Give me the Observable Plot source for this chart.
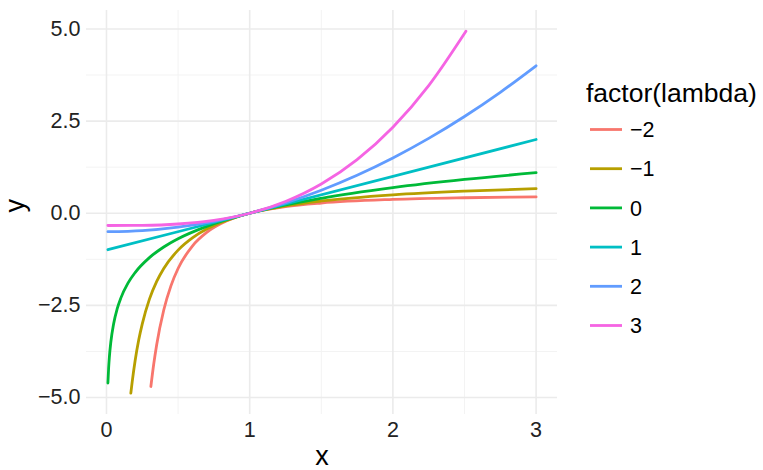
<!DOCTYPE html>
<html>
<head>
<meta charset="utf-8">
<script src="https://cdn.jsdelivr.net/npm/d3@7"></script>
<script src="https://cdn.jsdelivr.net/npm/@observablehq/plot@0.6"></script>
<style>
  html, body { margin: 0; padding: 0; background: #fff; }
  #wrap { position: relative; width: 763px; height: 470px; font-family: "Liberation Sans", Arial, sans-serif; }
  #wrap svg { position: absolute; left: 0; top: 0; }
</style>
</head>
<body>
<div id="wrap"></div>
<script>
// Series (lambda values and their colours)
const lambdas = ["-2", "-1", "0", "1", "2", "3"];
const lambdaLabels = ["\u22122", "\u22121", "0", "1", "2", "3"];
const colors = ["#F8766D", "#B79F00", "#00BA38", "#00BFC4", "#619CFF", "#F564E3"];

// Values, per lambda
const xNeg2 = [0.31, 0.33, 0.35, 0.4, 0.45, 0.5, 0.6, 0.7, 0.8, 0.9, 1, 1.25, 1.5, 2, 2.5, 3];
const yNeg2 = [-4.70, -4.09, -3.58, -2.625, -1.97, -1.5, -0.889, -0.520, -0.281, -0.117, 0, 0.18, 0.278, 0.375, 0.42, 0.444];

const xNeg1 = [0.17, 0.18, 0.2, 0.225, 0.25, 0.3, 0.35, 0.4, 0.5, 0.6, 0.7, 0.8, 0.9, 1, 1.25, 1.5, 2, 2.5, 3];
const yNeg1 = [-4.88, -4.56, -4.0, -3.44, -3.0, -2.33, -1.857, -1.5, -1.0, -0.667, -0.429, -0.25, -0.111, 0, 0.2, 0.333, 0.5, 0.6, 0.667];

const x0 = [0.01, 0.015, 0.02, 0.03, 0.05, 0.075, 0.1, 0.15, 0.2, 0.3, 0.4, 0.5, 0.7, 1, 1.5, 2, 2.5, 3];
const y0 = [-4.605, -4.2, -3.912, -3.507, -2.996, -2.59, -2.303, -1.897, -1.609, -1.204, -0.916, -0.693, -0.357, 0, 0.405, 0.693, 0.916, 1.099];

const x1 = [0.01, 1, 3];
const y1 = [-0.99, 0, 2.0];

const x2 = [0.01, 0.25, 0.5, 0.75, 1, 1.25, 1.5, 1.75, 2, 2.25, 2.5, 2.75, 3];
const y2 = [-0.5, -0.469, -0.375, -0.219, 0, 0.281, 0.625, 1.031, 1.5, 2.031, 2.625, 3.281, 4.0];

const x3 = [0.01, 0.25, 0.5, 0.75, 1, 1.25, 1.5, 1.75, 2, 2.25, 2.51];
const y3 = [-0.333, -0.328, -0.292, -0.193, 0, 0.318, 0.792, 1.453, 2.333, 3.464, 4.938];

// Axis ticks
const xTicks = [0, 1, 2, 3];
const xMinor = [0.5, 1.5, 2.5];
const yTicks = [-5, -2.5, 0, 2.5, 5];
const yMinor = [-3.75, -1.25, 1.25, 3.75];

const seriesX = [xNeg2, xNeg1, x0, x1, x2, x3];
const seriesY = [yNeg2, yNeg1, y0, y1, y2, y3];
const data = [];
lambdas.forEach((l, i) => {
  seriesX[i].forEach((x, j) => data.push({x, y: seriesY[i][j], lambda: l}));
});

const font = "\"Liberation Sans\", Arial, sans-serif";
const grid = "#EBEBEB";
const fmtY = d => d.toFixed(1).replace("-", "\u2212");
const fmtX = d => String(d);

const chart = Plot.plot({
  width: 763,
  height: 470,
  marginLeft: 86,
  marginRight: 206,
  marginTop: 10,
  marginBottom: 56,
  style: {fontFamily: font, background: "#fff", overflow: "visible"},
  x: {domain: [-0.1395, 3.1495]},
  y: {domain: [-5.46, 5.5]},
  color: {domain: lambdas, range: colors},
  marks: [
    Plot.gridX(xMinor, {stroke: "#F3F3F3", strokeOpacity: 1, strokeWidth: 1}),
    Plot.gridY(yMinor, {stroke: "#F3F3F3", strokeOpacity: 1, strokeWidth: 1}),
    Plot.gridX(xTicks, {stroke: grid, strokeOpacity: 1, strokeWidth: 1.6}),
    Plot.gridY(yTicks, {stroke: grid, strokeOpacity: 1, strokeWidth: 1.6}),
    Plot.axisX(xTicks, {tickSize: 0, tickPadding: 7, fontSize: 21.5, fill: "#222", label: null, tickFormat: fmtX}),
    Plot.axisY(yTicks, {tickSize: 0, tickPadding: 6, fontSize: 21.5, fill: "#222", label: null, tickFormat: fmtY}),
    Plot.line(data, {x: "x", y: "y", z: "lambda", stroke: "lambda", strokeWidth: 2.8, curve: "monotone-x"}),
    Plot.text(["x"], {frameAnchor: "bottom", dy: 50, fontSize: 27, fill: "#000"}),
    Plot.text(["y"], {frameAnchor: "left", dx: -71, rotate: -90, fontSize: 27, fill: "#000"})
  ]
});
document.getElementById("wrap").appendChild(chart);

// Legend
const leg = d3.select("#wrap").append("svg")
  .attr("width", 763).attr("height", 470)
  .style("font-family", font);
leg.append("text").attr("x", 586).attr("y", 101.5)
  .attr("font-size", 26.5).attr("fill", "#000").text("factor(lambda)");
const rowY = [129.5, 168.7, 207.9, 247.1, 286.3, 325.5];
lambdas.forEach((l, i) => {
  leg.append("line").attr("x1", 590).attr("x2", 622)
    .attr("y1", rowY[i]).attr("y2", rowY[i])
    .attr("stroke", colors[i]).attr("stroke-width", 2.8);
  leg.append("text").attr("x", 630).attr("y", rowY[i])
    .attr("dy", "0.36em").attr("font-size", 21.5).attr("fill", "#000")
    .text(lambdaLabels[i]);
});
</script>
</body>
</html>
